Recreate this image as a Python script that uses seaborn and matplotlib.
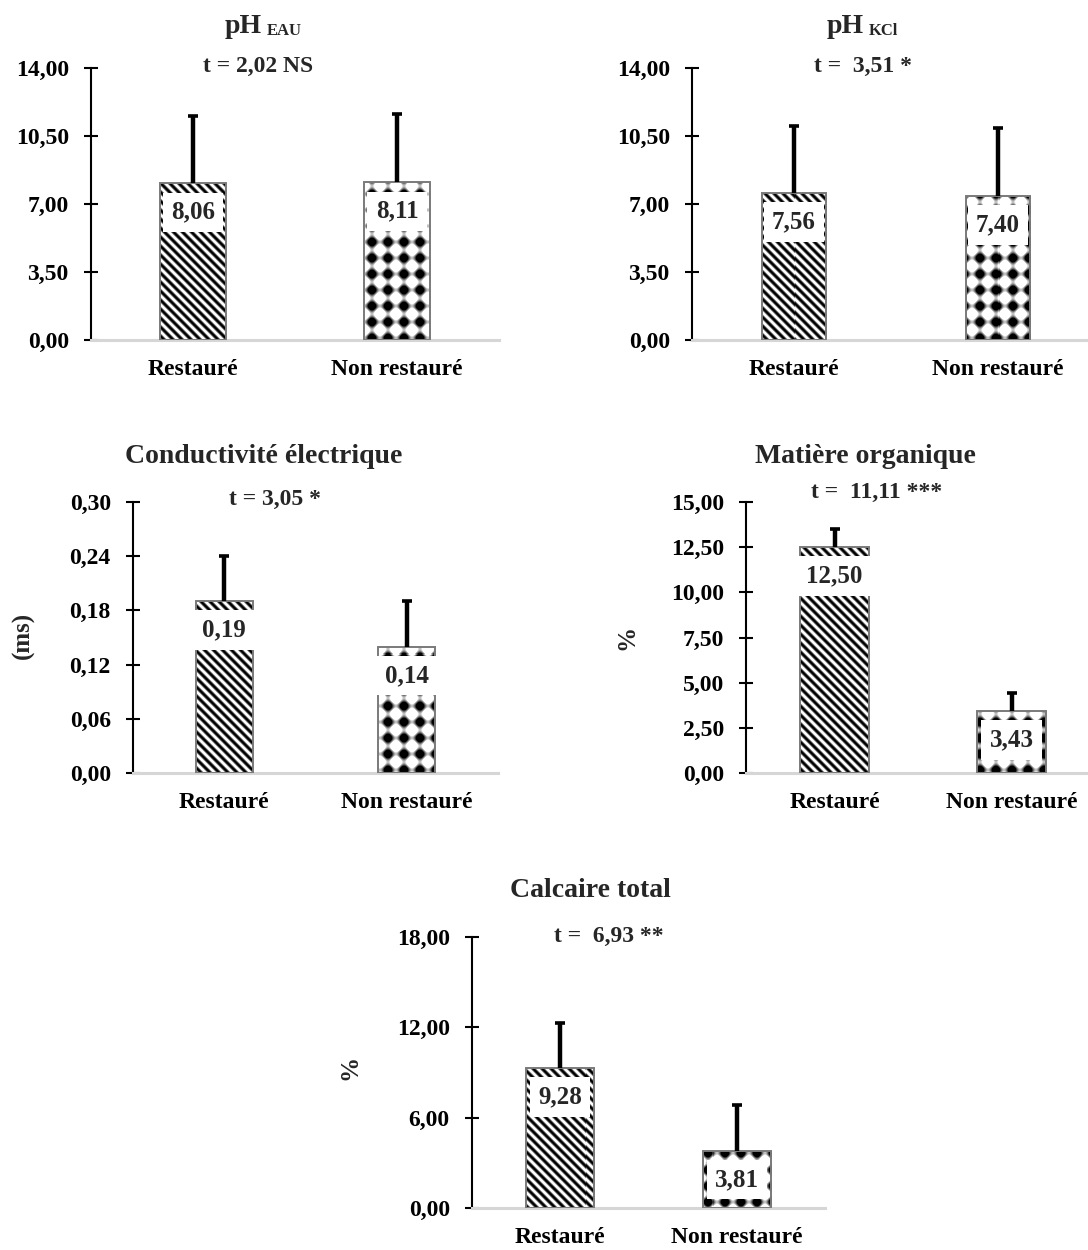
import numpy as np
import matplotlib
matplotlib.use("Agg")
import matplotlib.pyplot as plt
from matplotlib.patches import Rectangle
from matplotlib.ticker import FuncFormatter
import seaborn as sns

# ---------------------------------------------------------------- data
groups = ["Restauré", "Non restauré"]

ph_eau_mean = [8.06, 8.11]
ph_eau_sd = [3.47, 3.52]
ph_eau_ticks = [0, 3.5, 7, 10.5, 14]

ph_kcl_mean = [7.56, 7.40]
ph_kcl_sd = [3.45, 3.51]
ph_kcl_ticks = [0, 3.5, 7, 10.5, 14]

ce_mean = [0.19, 0.14]
ce_sd = [0.05, 0.05]
ce_ticks = [0, 0.06, 0.12, 0.18, 0.24, 0.30]

mo_mean = [12.50, 3.43]
mo_sd = [1.00, 1.00]
mo_ticks = [0, 2.5, 5, 7.5, 10, 12.5, 15]

ct_mean = [9.28, 3.81]
ct_sd = [3.00, 3.03]
ct_ticks = [0, 6, 12, 18]

titles = ["pH", "pH", "Conductivité électrique", "Matière organique", "Calcaire total"]
title_subs = ["EAU", "KCl", None, None, None]
t_tests = ["t = 2,02 NS", "t =  3,51 *", "t = 3,05 *", "t =  11,11 ***", "t =  6,93 **"]
y_titles = [None, None, "(ms)", "%", "%"]

# ---------------------------------------------------------------- style
sns.set_theme(style="ticks")
plt.rcParams["font.family"] = ["Liberation Serif", "DejaVu Serif"]
plt.rcParams["font.weight"] = "bold"
plt.rcParams["axes.labelweight"] = "bold"

W, H = 1088, 1250
fig = plt.figure(figsize=(W / 100, H / 100), dpi=100)
fig.patch.set_facecolor("white")


def fx(px):
    return px / W


def fy(py):
    return 1 - py / H


def comma(v):
    return f"{v:.2f}".replace(".", ",")


def texture(kind, w, h, left, top):
    """Grey-level fill for a bar, phased on absolute pixel position."""
    X, Y = np.meshgrid(left + np.arange(w) + 0.5, top + np.arange(h) + 0.5)
    if kind == "stripes":
        period = 9.0
        val = 0.5 + 0.62 * np.cos(2 * np.pi * (X - Y) / period)
        return np.clip(val, 0, 1)
    period = 16.0
    c = np.cos(2 * np.pi * (X - 4) / period) + np.cos(2 * np.pi * (Y - 2) / period)
    dark = np.clip((c + 0.35) / 1.4, 0, 1)
    return 1 - dark


def fill_bar(ax, patch, kind):
    x0, y0 = patch.get_x(), patch.get_y()
    x1, y1 = x0 + patch.get_width(), y0 + patch.get_height()
    (dx0, dy0), (dx1, dy1) = ax.transData.transform([(x0, y0), (x1, y1)])
    px0, px1 = np.floor(dx0), np.ceil(dx1)
    py0, py1 = np.floor(dy0), np.ceil(dy1)
    w, h = int(px1 - px0), int(py1 - py0)
    img = texture(kind, w, h, px0, H - py1)
    (ex0, ey0), (ex1, ey1) = ax.transData.inverted().transform([(px0, py0), (px1, py1)])
    im = ax.imshow(img, extent=(ex0, ex1, ey0, ey1), origin="upper", cmap="gray",
                   vmin=0, vmax=1, interpolation="nearest", aspect="auto", zorder=2)
    im.set_clip_path(patch)
    ax.add_patch(Rectangle((x0, y0), x1 - x0, y1 - y0, fill=False,
                           ec="#7a7a7a", lw=1.4, zorder=3))


def panel(rect, means, sds, ticks, bar_w, idx, title_xy, t_xy, ylab_xy=None):
    left, right, top, bottom = rect
    ax = fig.add_axes([fx(left), fy(bottom), fx(right - left), (bottom - top) / H])
    sns.barplot(x=groups, y=means, order=groups, ax=ax, width=bar_w,
                color="white", edgecolor="none", linewidth=0, errorbar=None)
    bars = list(ax.patches)
    ax.set_xlim(-0.5, len(groups) - 0.5)
    ax.set_ylim(ticks[0], ticks[-1])

    for patch, kind in zip(bars, ["stripes", "dots"]):
        fill_bar(ax, patch, kind)

    xs = [p.get_x() + p.get_width() / 2 for p in bars]
    eb = ax.errorbar(xs, means, yerr=[np.zeros(len(means)), sds], fmt="none",
                     ecolor="black", elinewidth=3.2, capsize=3.4, capthick=2.6,
                     zorder=4)
    eb[1][0].set_visible(False)

    for x, v in zip(xs, means):
        ax.annotate(comma(v), xy=(x, v), xytext=(0, -12.5), textcoords="offset points",
                    ha="center", va="top", fontsize=18, fontweight="bold",
                    bbox=dict(boxstyle="square,pad=0.33", fc="white", ec="none"),
                    zorder=5)

    ax.set_xlim(-0.5, len(groups) - 0.5)
    ax.set_ylim(ticks[0], ticks[-1])
    ax.set_yticks(ticks)
    ax.yaxis.set_major_formatter(FuncFormatter(lambda v, _: comma(v)))
    ax.tick_params(axis="y", direction="inout", length=10, width=1.5, pad=11,
                   labelsize=17, colors="black")
    ax.tick_params(axis="x", length=0, pad=14, labelsize=17, colors="black")
    for lab in ax.get_xticklabels() + ax.get_yticklabels():
        lab.set_fontweight("bold")
    ax.spines["top"].set_visible(False)
    ax.spines["right"].set_visible(False)
    ax.spines["left"].set_color("black")
    ax.spines["left"].set_linewidth(1.5)
    ax.spines["bottom"].set_color("#d6d6d6")
    ax.spines["bottom"].set_linewidth(2.2)
    ax.set_xlabel("")
    ax.set_ylabel("")
    ax.set_facecolor("none")

    # headings
    tx, ty = title_xy
    if title_subs[idx]:
        fig.text(fx(tx), fy(ty), titles[idx], ha="right", va="baseline",
                 fontsize=20, fontweight="bold")
        fig.text(fx(tx + 5), fy(ty + 2), title_subs[idx], ha="left", va="baseline",
                 fontsize=12, fontweight="bold")
    else:
        fig.text(fx(tx), fy(ty), titles[idx], ha="center", va="baseline",
                 fontsize=20, fontweight="bold")
    fig.text(fx(t_xy[0]), fy(t_xy[1]), t_tests[idx], ha="center", va="baseline",
             fontsize=17, fontweight="bold")
    if ylab_xy is not None:
        fig.text(fx(ylab_xy[0]), fy(ylab_xy[1]), y_titles[idx], ha="center",
                 va="center", rotation=90, fontsize=18, fontweight="bold")
    return ax


panel((91, 499, 68, 340), ph_eau_mean, ph_eau_sd, ph_eau_ticks, 0.32, 0,
      (262, 33), (258, 72))
panel((692, 1100, 68, 340), ph_kcl_mean, ph_kcl_sd, ph_kcl_ticks, 0.315, 1,
      (864, 33), (863, 72))
panel((133, 498, 502, 773), ce_mean, ce_sd, ce_ticks, 0.31, 2,
      (264, 463), (275, 505), (23, 635))
panel((746, 1100, 502, 773), mo_mean, mo_sd, mo_ticks, 0.385, 3,
      (865, 463), (877, 498), (627, 637))
panel((472, 825, 937, 1208), ct_mean, ct_sd, ct_ticks, 0.387, 4,
      (590, 897), (609, 942), (350, 1067))

fig.savefig("out.png", dpi=100, facecolor="white")
